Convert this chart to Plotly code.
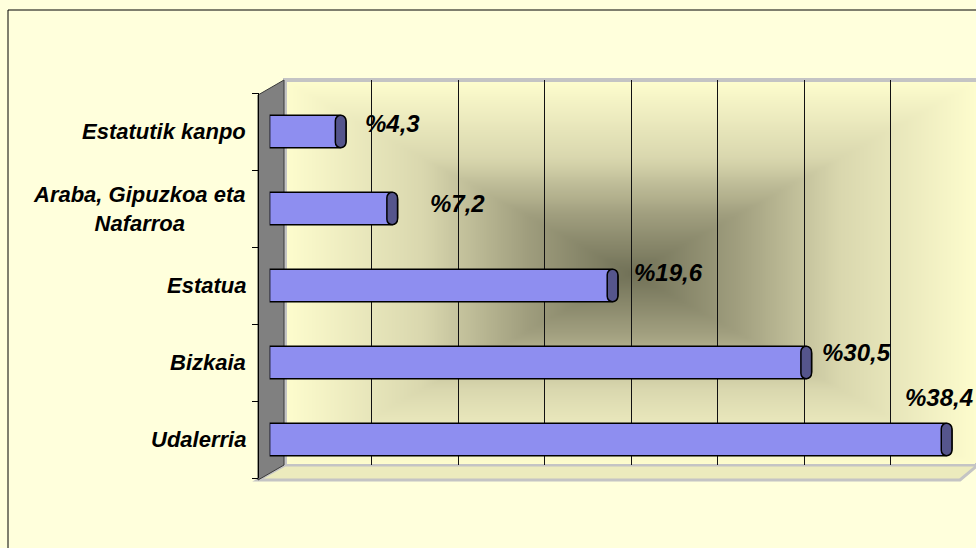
import numpy as np
import plotly.graph_objects as go

# ---------------- data ----------------
categories = ["Udalerria", "Bizkaia", "Estatua", "Araba, Gipuzkoa eta Nafarroa", "Estatutik kanpo"]
category_labels = ["Udalerria", "Bizkaia", "Estatua", "Araba, Gipuzkoa eta<br>Nafarroa", "Estatutik kanpo"]
values = [38.4, 30.5, 19.6, 7.2, 4.3]
grid_ticks = [5, 10, 15, 20, 25, 30, 35]

# ---------------- style ----------------
W, H = 976, 548
FONT = "Liberation Sans, Arial, sans-serif"
# pixel offsets of each value label relative to its bar end
label_dx = [23, 8, 14, 30, 17]
label_dy = [42, 10, 13, 5, 8]
label_anchor = ["right", "left", "left", "left", "left"]


def fx(p):
    return p / W


def fy(p):
    return 1 - p / H


fig = go.Figure()

# background gradient of the back wall (decorative)
gu = np.linspace(-1, 1, 160)
gv = np.linspace(-1, 1, 100)
GU, GV = np.meshgrid(gu, gv)
gz = np.maximum(np.abs(GU), np.abs(GV))
fig.add_trace(go.Heatmap(
    x=gu, y=gv, z=gz, xaxis="x", yaxis="y",
    colorscale=[[0, "#727258"], [0.3, "#a09e7e"], [0.6, "#d9d7ae"], [1, "#fdfccd"]],
    showscale=False, zsmooth="best", hoverinfo="skip",
))

# empty trace to carry the gridline subplot
fig.add_trace(go.Scatter(x=[None], y=[None], xaxis="x2", yaxis="y2",
                         showlegend=False, hoverinfo="skip"))

# bars
fig.add_trace(go.Bar(
    x=values, y=categories, orientation="h", xaxis="x3", yaxis="y3",
    width=0.42,
    marker=dict(color="#8e8ef0", line=dict(color="black", width=1.5), cornerradius=7),
    showlegend=False, hoverinfo="x+y",
))
# dark cylinder end caps
cap = 0.6
fig.add_trace(go.Bar(
    x=[cap] * len(values), base=[v - cap for v in values], y=categories,
    orientation="h", xaxis="x3", yaxis="y3", width=0.42,
    marker=dict(color="#55558c", line=dict(color="black", width=1.5), cornerradius="50%"),
    showlegend=False, hoverinfo="skip",
))

annotations = []
for c, v, dx, dy, anc in zip(categories, values, label_dx, label_dy, label_anchor):
    annotations.append(dict(
        x=v, y=c, xref="x3", yref="y3", text="%" + f"{v:.1f}".replace(".", ","),
        showarrow=False, xanchor=anc, yanchor="middle", xshift=dx, yshift=dy,
        font=dict(family=FONT, size=24, color="black", weight="bold", style="italic"),
    ))
for c, lab in zip(categories, category_labels):
    annotations.append(dict(
        x=fx(248), y=c, xref="paper", yref="y3", text=lab, showarrow=False,
        xanchor="right", yanchor="middle", align="center",
        font=dict(family=FONT, size=22, color="black", weight="bold", style="italic"),
    ))

shapes = [
    # outer chart border
    dict(type="rect", xref="paper", yref="paper", x0=fx(8), x1=1.02, y0=-0.02, y1=fy(10),
         line=dict(color="black", width=1), fillcolor="rgba(0,0,0,0)", layer="below"),
    # back wall border
    dict(type="rect", xref="paper", yref="paper", x0=fx(285), x1=fx(978), y0=fy(465), y1=fy(80),
         line=dict(color="#c4c4c4", width=4), fillcolor="#fdfccd", layer="below"),
    # floor
    dict(type="path", xref="paper", yref="paper",
         path=f"M {fx(258)} {fy(480)} L {fx(285)} {fy(465)} L {fx(978)} {fy(465)} L {fx(960)} {fy(480)} Z",
         line=dict(color="#c4c4c4", width=3), fillcolor="#ecebbd", layer="below"),
    # grey side wall
    dict(type="path", xref="paper", yref="paper",
         path=f"M {fx(258)} {fy(95)} L {fx(284)} {fy(80)} L {fx(284)} {fy(465)} L {fx(258)} {fy(480)} Z",
         line=dict(color="#3a3a3a", width=1), fillcolor="#808080", layer="below"),
]

fig.update_layout(
    width=W, height=H,
    margin=dict(l=0, r=0, t=0, b=0),
    paper_bgcolor="#ffffdc",
    plot_bgcolor="rgba(0,0,0,0)",
    barmode="overlay",
    showlegend=False,
    xaxis=dict(domain=[fx(287), fx(975)], range=[-1, 1], visible=False, fixedrange=True),
    yaxis=dict(domain=[fy(464), fy(82)], range=[-1, 1], visible=False, fixedrange=True),
    xaxis2=dict(domain=[fx(285.5), fx(974)], range=[0, 39.8], anchor="y2",
                tickmode="array", tickvals=grid_ticks, showticklabels=False,
                showgrid=True, gridcolor="#111111", gridwidth=1, zeroline=False,
                ticks="", showline=False),
    yaxis2=dict(domain=[fy(465), fy(80)], range=[0, 1], anchor="x2", visible=False),
    xaxis3=dict(domain=[fx(269.6), fx(962.6)], range=[0, 39], anchor="y3", visible=False),
    yaxis3=dict(domain=[fy(478), fy(93)], anchor="free", position=fx(258),
                type="category", categoryorder="array", categoryarray=categories,
                showticklabels=False, ticks="outside", ticklen=6, tickcolor="black",
                tickson="boundaries", showline=True, linecolor="black", linewidth=1,
                showgrid=False, zeroline=False),
    annotations=annotations,
    shapes=shapes,
)

fig.write_html(
    "out.html",
    config={"displayModeBar": False},
    post_script="document.body.style.margin='0';document.body.style.overflow='hidden';"
                "document.body.style.background='#ffffdc';",
)
